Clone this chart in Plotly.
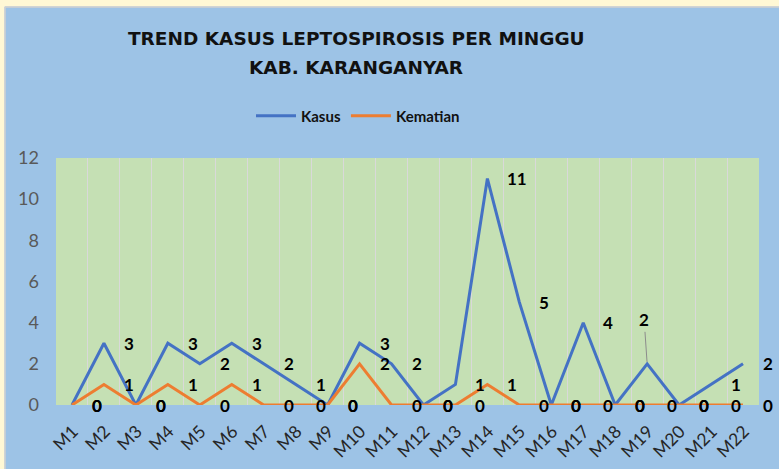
import plotly.graph_objects as go

weeks = ["M1", "M2", "M3", "M4", "M5", "M6", "M7", "M8", "M9", "M10", "M11",
         "M12", "M13", "M14", "M15", "M16", "M17", "M18", "M19", "M20", "M21", "M22"]
kasus = [0, 3, 0, 3, 2, 3, 2, 1, 0, 3, 2, 0, 1, 11, 5, 0, 4, 0, 2, 0, 1, 2]
kematian = [0, 1, 0, 1, 0, 1, 0, 0, 0, 2, 0, 0, 0, 1, 0, 0, 0, 0, 0, 0, 0, 0]
y_ticks = [0, 2, 4, 6, 8, 10, 12]
title_lines = ["TREND KASUS LEPTOSPIROSIS PER MINGGU", "KAB. KARANGANYAR"]

BLUE = "#4472C4"
ORANGE = "#ED7D31"
BG = "#9DC3E6"
PLOT_BG = "#C5E0B4"
CREAM = "#FFF8D5"

W, H = 779, 469
ML, MR, MT, MB = 56, 20, 158, 64
PW, PH = W - ML - MR, H - MT - MB

def px_x(px):
    return (px - ML) / PW

def px_y(py):
    return (H - MB - py) / PH

fig = go.Figure()
fig.add_trace(go.Scatter(x=weeks, y=kasus, name="Kasus", mode="lines",
                         line=dict(color=BLUE, width=3)))
fig.add_trace(go.Scatter(x=weeks, y=kematian, name="Kematian", mode="lines",
                         line=dict(color=ORANGE, width=3)))

annotations = []
label_font = dict(family="Lato, sans-serif", size=17, color="#000000")
for series in (kematian, kasus):
    for wk, v in zip(weeks, series):
        if series is kasus and wk == "M19":
            annotations.append(dict(x=wk, y=v, text="<b>%d</b>" % v, showarrow=True,
                                    ax=-3, ay=-44, arrowhead=0, arrowwidth=1,
                                    arrowcolor="#8C8C8C", standoff=2, font=label_font))
        else:
            annotations.append(dict(x=wk, y=v, text="<b>%d</b>" % v, showarrow=False,
                                    xanchor="left", yanchor="middle", xshift=18,
                                    font=label_font))

title_font = dict(family="DejaVu Sans, sans-serif", size=18.5, color="#111111")
for line, py in zip(title_lines, (38, 68)):
    annotations.append(dict(xref="paper", yref="paper", x=px_x(356), y=px_y(py),
                            xanchor="center", yanchor="middle", showarrow=False,
                            text="<b>%s</b>" % line, font=title_font))

shapes = [
    dict(type="rect", xref="paper", yref="paper", x0=px_x(-5), x1=px_x(W + 5),
         y0=px_y(6.5), y1=px_y(-5), fillcolor=CREAM, line=dict(width=0), layer="above"),
    dict(type="rect", xref="paper", yref="paper", x0=px_x(-5), x1=px_x(4.5),
         y0=px_y(H + 5), y1=px_y(-5), fillcolor=CREAM, line=dict(width=0), layer="above"),
    dict(type="line", xref="paper", yref="paper", x0=px_x(5), x1=px_x(W + 5),
         y0=px_y(7), y1=px_y(7), line=dict(color="#D0D0D0", width=1.5), layer="above"),
    dict(type="line", xref="paper", yref="paper", x0=px_x(5), x1=px_x(5),
         y0=px_y(7), y1=px_y(H + 5), line=dict(color="#D0D0D0", width=1.5), layer="above"),
]

fig.update_layout(
    width=W, height=H,
    margin=dict(l=ML, r=MR, t=MT, b=MB, pad=0, autoexpand=False),
    paper_bgcolor=BG, plot_bgcolor=PLOT_BG,
    legend=dict(orientation="h", x=px_x(358), xanchor="center", y=px_y(116),
                yanchor="middle", bgcolor="rgba(0,0,0,0)",
                font=dict(family="Lato, sans-serif", size=15, color="#111111", weight="bold"),
                itemwidth=40, tracegroupgap=0),
    showlegend=True,
    xaxis=dict(type="category", categoryorder="array", categoryarray=weeks,
               range=[-0.5, len(weeks) - 0.5],
               tickson="boundaries", showgrid=True, gridcolor="#D9D9D9", gridwidth=1,
               ticks="", tickangle=-45, showline=False, zeroline=False, automargin=False,
               ticklabelstandoff=12, ticklabelshift=1,
               tickfont=dict(family="Lato, sans-serif", size=17.5, color="#262626")),
    yaxis=dict(range=[0, 12], tickvals=y_ticks, showgrid=False, zeroline=False,
               showline=False, ticks="", ticklabelstandoff=16, automargin=False,
               tickfont=dict(family="Lato, sans-serif", size=18, color="#595959")),
    annotations=annotations,
    shapes=shapes,
)

fig.write_html(
    "out.html",
    config={"displayModeBar": False},
    post_script="document.body.style.margin='0';document.body.style.padding='0';"
                "document.body.style.overflow='hidden';",
)
